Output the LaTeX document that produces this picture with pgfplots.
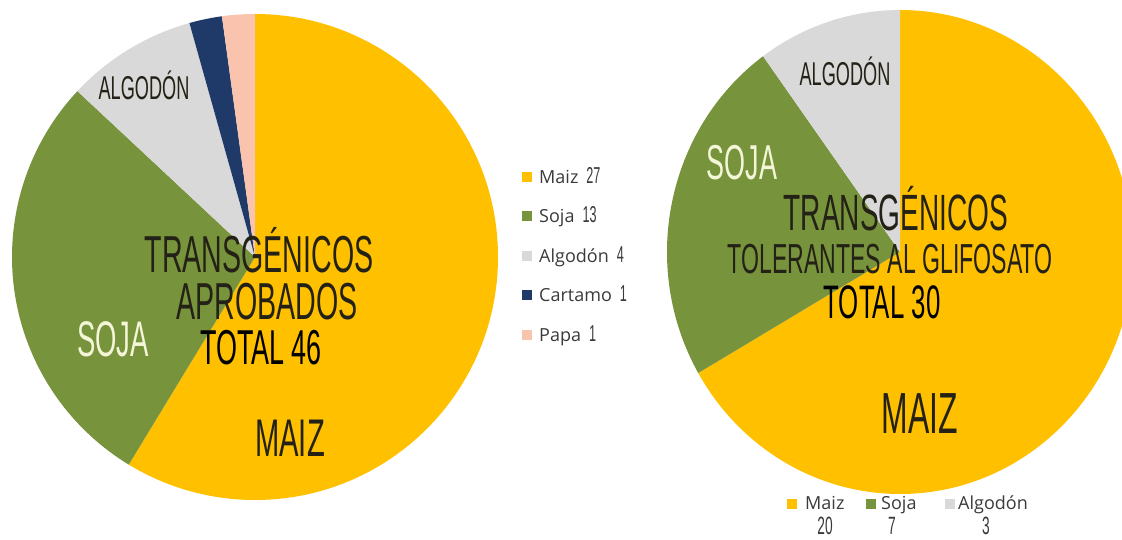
\documentclass[border=0pt]{standalone}
\usepackage{fontspec}
\setmainfont{Open Sans}
\newfontfamily\cond[FakeStretch=0.55]{Liberation Sans}
\usepackage{pgfplots}
\usepackage{pgfplotstable}
\pgfplotsset{compat=1.18}

\definecolor{cmaiz}{HTML}{FFC000}
\definecolor{csoja}{HTML}{77933C}
\definecolor{calg}{HTML}{D9D9D9}
\definecolor{ccart}{HTML}{1F3A68}
\definecolor{cpapa}{HTML}{F9C3AE}
\definecolor{ctext}{HTML}{242116}
\definecolor{ccream}{HTML}{F4F6D8}
\definecolor{clegend}{HTML}{3A3A3A}

\pgfplotstableread{
label value colour
Maiz 27 cmaiz
Soja 13 csoja
Algodón 4 calg
Cartamo 1 ccart
Papa 1 cpapa
}\datL

\pgfplotstableread{
label value colour
Maiz 20 cmaiz
Soja 7 csoja
Algodón 3 calg
}\datR

% cumulative angles (clockwise from 12 o'clock) computed from the table values
\newcommand{\piecalc}[2]{%
  \pgfplotstablegetrowsof{#1}%
  \pgfmathtruncatemacro{\pcN}{\pgfplotsretval-1}%
  \gdef\pcTot{0}%
  \foreach \i in {0,...,\pcN}{%
    \pgfplotstablegetelem{\i}{value}\of{#1}%
    \pgfmathsetmacro{\pcTmp}{\pcTot+\pgfplotsretval}%
    \xdef\pcTot{\pcTmp}%
  }%
  \gdef\pcAcc{0}%
  \foreach \i in {0,...,\pcN}{%
    \pgfplotstablegetelem{\i}{value}\of{#1}%
    \let\pcVal\pgfplotsretval
    \pgfmathsetmacro{\pcSa}{90-(\pcAcc/\pcTot)*360}%
    \pgfmathsetmacro{\pcAc}{\pcAcc+\pcVal}%
    \pgfmathsetmacro{\pcEa}{90-(\pcAc/\pcTot)*360}%
    \expandafter\xdef\csname #2s\i\endcsname{\pcSa}%
    \expandafter\xdef\csname #2e\i\endcsname{\pcEa}%
    \expandafter\xdef\csname #2v\i\endcsname{\pcVal}%
    \pgfplotstablegetelem{\i}{colour}\of{#1}%
    \expandafter\xdef\csname #2c\i\endcsname{\pgfplotsretval}%
    \pgfplotstablegetelem{\i}{label}\of{#1}%
    \expandafter\xdef\csname #2l\i\endcsname{\pgfplotsretval}%
    \xdef\pcAcc{\pcAc}%
  }%
  \expandafter\xdef\csname #2n\endcsname{\pcN}%
  \pgfmathtruncatemacro{\pcT}{\pcTot}%
  \expandafter\xdef\csname #2t\endcsname{\pcT}%
}

\newcommand\legfont{\fontsize{18}{18}\selectfont}
\tikzset{big/.style={anchor=base, inner sep=0, text height=0.72em, text depth=0pt}}

\begin{document}
\piecalc{\datL}{L}%
\piecalc{\datR}{R}%
\begin{tikzpicture}
\useasboundingbox (0,0) rectangle (1122pt,540pt);
\clip (0,0) rectangle (1122pt,540pt);
\begin{axis}[at={(0pt,0pt)}, anchor=south west, scale only axis,
  width=1122pt, height=540pt, xmin=0, xmax=1122, ymin=0, ymax=540,
  hide axis, clip=false]

% ---- left pie
\pgfplotsinvokeforeach{0,...,\Ln}{%
  \edef\temp{\noexpand\fill[\csname Lc#1\endcsname] (axis cs:255,283) -- ++(\csname Ls#1\endcsname:243pt)
    arc[start angle=\csname Ls#1\endcsname, end angle=\csname Le#1\endcsname, radius=243pt] -- cycle;}%
  \temp
}
% ---- right pie
\pgfplotsinvokeforeach{0,...,\Rn}{%
  \edef\temp{\noexpand\fill[\csname Rc#1\endcsname] (axis cs:900,288) -- ++(\csname Rs#1\endcsname:233pt and 242pt)
    arc[start angle=\csname Rs#1\endcsname, end angle=\csname Re#1\endcsname, x radius=233pt, y radius=242pt] -- cycle;}%
  \temp
}

% ---- left pie labels
\node[big, text=ctext, font=\cond\fontsize{33}{33}\selectfont] at (axis cs:144,440) {ALGODÓN};
\node[big, text=ccream, font=\cond\fontsize{50}{50}\selectfont] at (axis cs:113,183) {SOJA};
\node[big, text=ctext, font=\cond\fontsize{53}{53}\selectfont] at (axis cs:290,83) {MAIZ};
\node[big, text=ctext, font=\cond\fontsize{52}{52}\selectfont] at (axis cs:259,267) {TRANSGÉNICOS};
\node[big, text=ctext, font=\cond\fontsize{52}{52}\selectfont] at (axis cs:267,220) {APROBADOS};
\node[big, text=black, font=\cond\fontsize{49}{49}\selectfont] at (axis cs:261,175) {TOTAL \Lt};

% ---- right pie labels
\node[big, text=ctext, font=\cond\fontsize{33}{33}\selectfont] at (axis cs:845,454) {ALGODÓN};
\node[big, text=ccream, font=\cond\fontsize{49}{49}\selectfont] at (axis cs:742,360) {SOJA};
\node[big, text=ctext, font=\cond\fontsize{58}{58}\selectfont] at (axis cs:920,106) {MAIZ};
\node[big, text=ctext, font=\cond\fontsize{51}{51}\selectfont] at (axis cs:896,309) {TRANSGÉNICOS};
\node[big, text=ctext, font=\cond\fontsize{42}{42}\selectfont] at (axis cs:890,266) {TOLERANTES AL GLIFOSATO};
\node[big, text=black, font=\cond\fontsize{47}{47}\selectfont] at (axis cs:882,221) {TOTAL \Rt};

% ---- left legend
\pgfplotsinvokeforeach{0,...,\Ln}{%
  \pgfmathsetmacro{\yc}{540-(177+39.5*#1)}%
  \pgfmathsetmacro{\ya}{\yc-5}%
  \pgfmathsetmacro{\yb}{\yc+5}%
  \pgfmathsetmacro{\ybase}{\yc-6.5}%
  \edef\temp{\noexpand\fill[\csname Lc#1\endcsname] (axis cs:522,\ya) rectangle (axis cs:532,\yb);
    \noexpand\node[anchor=base west, inner sep=0, text=clegend] at (axis cs:539,\ybase)
      {\noexpand\legfont \csname Ll#1\endcsname\noexpand\hspace{8pt}{\noexpand\cond\noexpand\fontsize{23}{23}\noexpand\selectfont \csname Lv#1\endcsname}};}%
  \temp
}

% ---- right legend (below the pie)
\pgfplotsinvokeforeach{0,...,\Rn}{%
  \pgfmathsetmacro{\mx}{{787,866,945}[#1]}%
  \pgfmathsetmacro{\mxb}{\mx+10}%
  \pgfmathsetmacro{\lx}{{805,881,958}[#1]}%
  \pgfmathsetmacro{\vx}{{825,892,986}[#1]}%
  \edef\temp{\noexpand\fill[\csname Rc#1\endcsname] (axis cs:\mx,31) rectangle (axis cs:\mxb,41);
    \noexpand\node[anchor=base west, inner sep=0, text=clegend] at (axis cs:\lx,30)
      {\noexpand\legfont \csname Rl#1\endcsname};
    \noexpand\node[anchor=base, inner sep=0, text=clegend] at (axis cs:\vx,5)
      {\noexpand\cond\noexpand\fontsize{25}{25}\noexpand\selectfont \csname Rv#1\endcsname};}%
  \temp
}
\end{axis}
\end{tikzpicture}
\end{document}
